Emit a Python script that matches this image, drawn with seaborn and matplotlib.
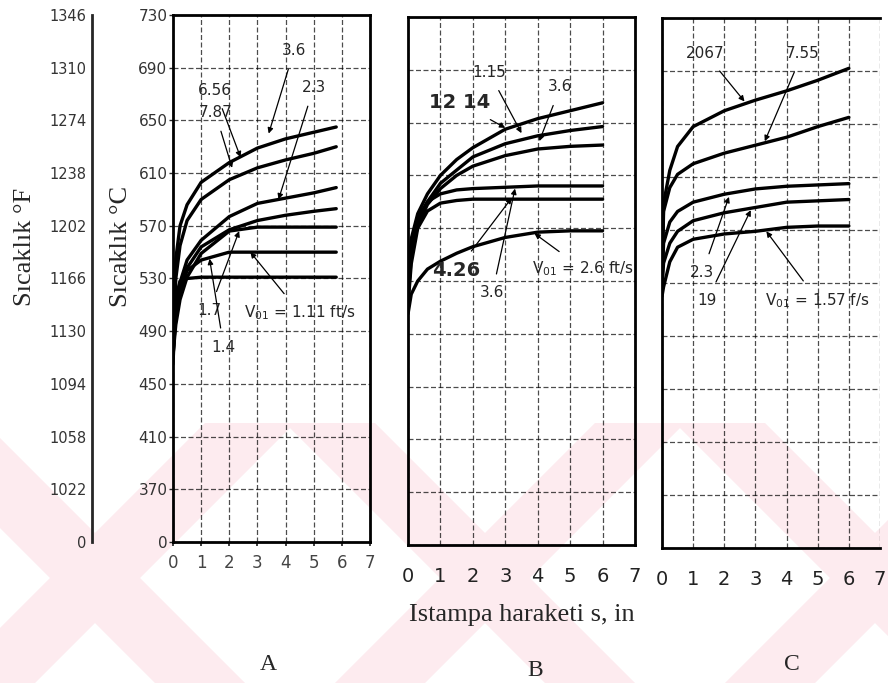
# Stamping temperature vs. punch travel (panels A, B, C)
# Values

import pandas as pd
import numpy as np
import matplotlib
matplotlib.use("Agg")
import matplotlib.pyplot as plt
from matplotlib.patches import Polygon
import seaborn as sns

# ---- data ----
# panel A, V01 = 1.11 ... 7.87 ft/s
s_a = [0, 0.1, 0.25, 0.5, 1, 2, 3, 4, 5, 5.8]
a_curves = {
    "A1": [480, 545, 570, 586, 603, 618, 629, 636, 641, 645],
    "A2": [478, 530, 555, 574, 590, 605, 614, 620, 625, 630],
    "A3": [476, 510, 527, 544, 559, 577, 587, 591, 595, 599],
    "A4": [474, 500, 519, 538, 554, 567, 574, 578, 581, 583],
    "A5": [472, 495, 514, 531, 549, 566, 569, 569, 569, 569],
    "A6": [470, 505, 522, 536, 544, 550, 550, 550, 550, 550],
    "A7": [465, 515, 528, 530, 531, 531, 531, 531, 531, 531],
}

# panel B, V01 = 2.6 ... 12.14 ft/s
s_b = [0, 0.1, 0.3, 0.6, 1, 1.5, 2, 3, 4, 5, 6]
b_curves = {
    "B1": [530, 562, 581, 596, 610, 622, 631, 645, 653, 659, 665],
    "B2": [525, 555, 575, 590, 604, 614, 624, 634, 640, 644, 647],
    "B3": [520, 550, 572, 588, 600, 610, 617, 625, 630, 632, 633],
    "B4": [515, 548, 578, 590, 596, 599, 600, 601, 602, 602, 602],
    "B5": [512, 543, 570, 583, 589, 591, 592, 592, 592, 592, 592],
    "B6": [505, 520, 530, 539, 545, 551, 556, 563, 567, 568, 568],
}

# panel C, V01 = 1.57 ... 20.67 ft/s
s_c = [0, 0.05, 0.25, 0.5, 1, 2, 3, 4, 5, 6]
c_curves = {
    "C1": [527, 590, 615, 633, 648, 660, 668, 675, 683, 692],
    "C2": [527, 584, 602, 612, 620, 628, 634, 640, 648, 655],
    "C3": [527, 560, 576, 584, 591, 597, 601, 603, 604, 605],
    "C4": [527, 545, 560, 569, 577, 583, 587, 591, 592, 593],
    "C5": [520, 527, 546, 557, 563, 567, 569, 572, 573, 573],
}

c_ticks = [330, 370, 410, 450, 490, 530, 570, 610, 650, 690, 730]
c_labels = ["0", "370", "410", "450", "490", "530", "570", "610", "650", "690", "730"]
f_labels = ["0", "1022", "1058", "1094", "1130", "1166", "1202", "1238", "1274", "1310", "1346"]
x_ticks = [0, 1, 2, 3, 4, 5, 6, 7]

# labels on the curves: (text, text pos, arrow tip)
a_notes = [
    ("3.6", (4.3, 703), (3.4, 640)),
    ("2.3", (5.0, 675), (3.75, 590)),
    ("6.56", (1.5, 673), (2.4, 622)),
    ("7.87", (1.5, 656), (2.1, 614)),
    ("1.7", (1.3, 506), (2.35, 566)),
    ("V$_{01}$ = 1.11 ft/s", (4.5, 504), (2.75, 550)),
    ("1.4", (1.8, 478), (1.3, 545)),
]
b_notes = [
    ("12 14", (1.6, 665), (3.0, 646)),
    ("1.15", (2.5, 688), (3.5, 642)),
    ("3.6", (4.7, 677), (4.05, 636)),
    ("4.26", (1.5, 538), (3.2, 593)),
    ("3.6", (2.6, 521), (3.3, 600)),
    ("V$_{01}$ = 2.6 ft/s", (5.4, 539), (3.9, 566)),
]
c_notes = [
    ("2067", (1.4, 703), (2.65, 667)),
    ("7.55", (4.5, 703), (3.3, 637)),
    ("2.3", (1.3, 538), (2.15, 595)),
    ("19", (1.45, 517), (2.85, 585)),
    ("V$_{01}$ = 1.57 f/s", (5.0, 517), (3.35, 569)),
]


def to_frame(s, curves):
    rows = []
    for name, vals in curves.items():
        for x, t in zip(s, vals):
            rows.append((name, x, t))
    return pd.DataFrame(rows, columns=["curve", "s", "T"])


sns.set_theme(style="white")
plt.rcParams["font.family"] = ["DejaVu Sans"]

W, H = 888, 683
fig = plt.figure(figsize=(W / 100, H / 100), dpi=100)


def fx(px):
    return px / W


def fy(py):
    return 1 - py / H


# pale pink watermark in the lower part of the scan
pink = "#fdebef"
y0, y1, h = 423, 683, 45
for c in [-60, 330, 720]:
    fig.add_artist(Polygon([(fx(c - h), fy(y0)), (fx(c + h), fy(y0)),
                            (fx(c + h + 260), fy(y1)), (fx(c - h + 260), fy(y1))],
                           closed=True, transform=fig.transFigure, color=pink, lw=0, zorder=-5))
for c in [250, 640, 1030]:
    fig.add_artist(Polygon([(fx(c - h), fy(y0)), (fx(c + h), fy(y0)),
                            (fx(c + h - 260), fy(y1)), (fx(c - h - 260), fy(y1))],
                           closed=True, transform=fig.transFigure, color=pink, lw=0, zorder=-5))

panels = [
    ("A", [fx(173), fy(542), fx(370) - fx(173), fy(15) - fy(542)], s_a, a_curves, a_notes),
    ("B", [fx(408), fy(545), fx(635) - fx(408), fy(17) - fy(545)], s_b, b_curves, b_notes),
    ("C", [fx(662), fy(548), fx(880) - fx(662), fy(18) - fy(548)], s_c, c_curves, c_notes),
]

for name, pos, s, curves, notes in panels:
    ax = fig.add_axes(pos)
    ax.patch.set_alpha(0)
    df = to_frame(s, curves)
    sns.lineplot(data=df, x="s", y="T", units="curve", estimator=None,
                 color="black", lw=2.4, legend=False, ax=ax)
    ax.set_xlim(0, 7)
    ax.set_ylim(330, 730)
    ax.set_xticks(x_ticks)
    ax.set_yticks(c_ticks)
    ax.grid(True, color="black", lw=0.9, ls=(0, (4, 2)), alpha=0.7)
    ax.set_xlabel("")
    ax.set_ylabel("")
    for sp in ax.spines.values():
        sp.set_linewidth(2)
        sp.set_color("black")
    if name == "A":
        ax.set_yticklabels(c_labels, fontsize=11, color="#333333")
        ax.tick_params(axis="y", left=True, length=3, width=1, pad=1)
        ax.set_xticklabels([str(v) for v in x_ticks], fontsize=12, color="#444444")
        ax.tick_params(axis="x", bottom=True, length=3, pad=6)
    else:
        ax.set_yticklabels([])
        ax.tick_params(axis="y", left=False)
        ax.set_xticklabels([str(v) for v in x_ticks], fontsize=14, color="#222222")
        ax.tick_params(axis="x", bottom=False, pad=10)
    if name == "C":
        ax.spines["right"].set_visible(False)
    for txt, xy_text, xy_tip in notes:
        big = txt in ("12 14", "4.26")
        ax.annotate(txt, xy=xy_tip, xytext=xy_text,
                    fontsize=14 if big else 11,
                    fontweight="bold" if big else "normal",
                    ha="center", va="center",
                    arrowprops=dict(arrowstyle="-|>", color="black", lw=0.9,
                                    mutation_scale=8, shrinkA=6, shrinkB=0))

# the Fahrenheit scale on its own axis line
ax_f = fig.add_axes([fx(92), fy(542), 0.0001, fy(15) - fy(542)])
ax_f.patch.set_visible(False)
for side in ["right", "top", "bottom"]:
    ax_f.spines[side].set_visible(False)
ax_f.spines["left"].set_linewidth(2)
ax_f.set_ylim(330, 730)
ax_f.set_yticks(c_ticks)
ax_f.set_yticklabels(f_labels, fontsize=10.5, color="#333333")
ax_f.tick_params(axis="y", direction="in", length=4, width=1, pad=4)
ax_f.set_xticks([])

serif = ["Liberation Serif", "DejaVu Serif"]
fig.text(fx(25), fy(247), "Sıcaklık °F", rotation=90, fontsize=19, family=serif,
         ha="center", va="center")
fig.text(fx(121), fy(246), "Sıcaklık °C", rotation=90, fontsize=19, family=serif,
         ha="center", va="center")
fig.text(fx(522), fy(615), "Istampa haraketi s, in", fontsize=19, family=serif,
         ha="center", va="center")
for letter, px, py in [("A", 268, 664), ("B", 535, 670), ("C", 792, 665)]:
    fig.text(fx(px), fy(py), letter, fontsize=17, family=serif, ha="center", va="center")

fig.savefig("out.png", dpi=100)
